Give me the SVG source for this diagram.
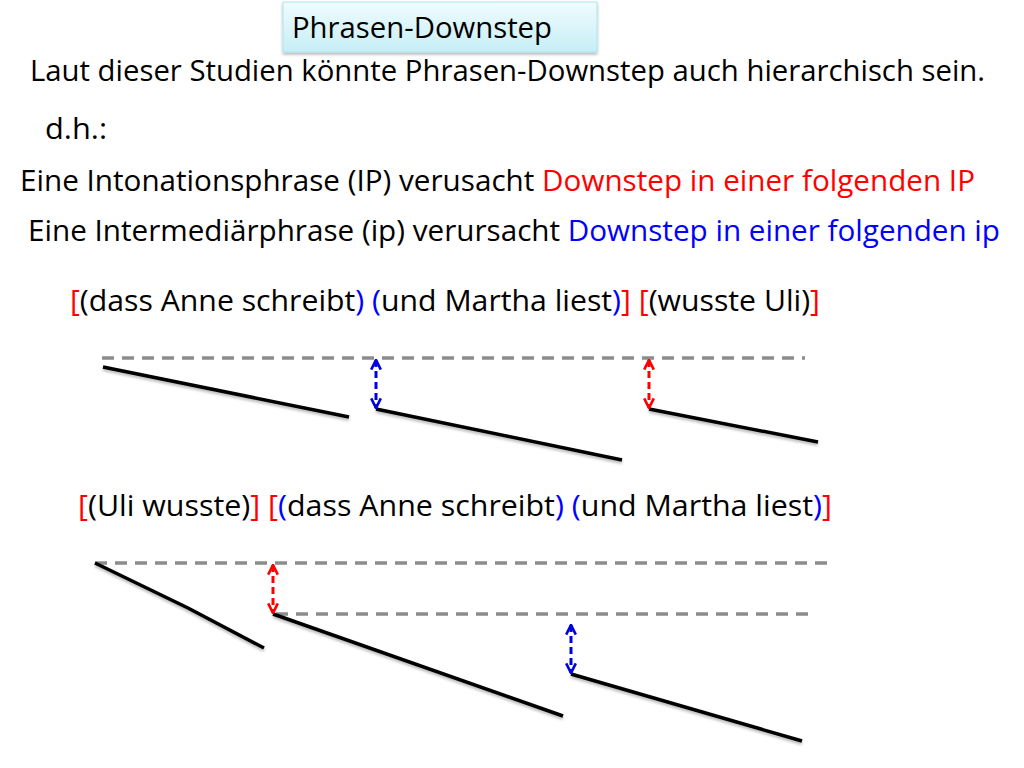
<svg xmlns="http://www.w3.org/2000/svg" width="1024" height="768" viewBox="0 0 1024 768">
<style>
text{font-family:"Open Sans","Liberation Sans",sans-serif;font-size:28.5px;fill:#000}
.r{fill:#ff0000}.b{fill:#0000ff}
.grid{stroke:#8c8c8c;stroke-width:3.5;stroke-dasharray:12 8;fill:none}
.pitch{stroke:#000;stroke-width:3.5;fill:none;stroke-linecap:butt}
.arb{stroke:#0000e0;stroke-width:3;stroke-dasharray:7 4;fill:none;marker-start:url(#mb);marker-end:url(#mb)}
.arr{stroke:#ff0000;stroke-width:3;stroke-dasharray:7 4;fill:none;marker-start:url(#mr);marker-end:url(#mr)}
</style>
<defs>
<linearGradient id="tg" x1="0" y1="0" x2="0" y2="1"><stop offset="0" stop-color="#f0fcfe"/><stop offset="1" stop-color="#c6eef6"/></linearGradient>
<marker id="mb" viewBox="0 0 10 10" refX="9" refY="5" markerWidth="4" markerHeight="4" orient="auto-start-reverse" markerUnits="strokeWidth"><path d="M1,1 L9,5 L1,9" fill="none" stroke="#0000e0" stroke-width="2.2"/></marker>
<marker id="mr" viewBox="0 0 10 10" refX="9" refY="5" markerWidth="4" markerHeight="4" orient="auto-start-reverse" markerUnits="strokeWidth"><path d="M1,1 L9,5 L1,9" fill="none" stroke="#ff0000" stroke-width="2.2"/></marker>
<filter id="sh" x="-10%" y="-20%" width="120%" height="150%"><feGaussianBlur in="SourceAlpha" stdDeviation="1.5"/><feOffset dx="0" dy="2"/><feComponentTransfer><feFuncA type="linear" slope="0.3"/></feComponentTransfer><feMerge><feMergeNode/><feMergeNode in="SourceGraphic"/></feMerge></filter>
</defs>
<rect width="1024" height="768" fill="#fff"/>
<g id="title">
<rect x="283" y="2" width="314" height="50" fill="url(#tg)" stroke="#b0e4ee" stroke-width="1" filter="url(#sh)"/>
<text x="292" y="38" textLength="260" lengthAdjust="spacingAndGlyphs">Phrasen-Downstep</text>
</g>
<g id="text">
<text x="30" y="81" textLength="955" lengthAdjust="spacingAndGlyphs">Laut dieser Studien könnte Phrasen-Downstep auch hierarchisch sein.</text>
<text x="45" y="139" textLength="62" lengthAdjust="spacingAndGlyphs">d.h.:</text>
<text x="20" y="191" textLength="955" lengthAdjust="spacingAndGlyphs">Eine Intonationsphrase (IP) verusacht <tspan class="r">Downstep in einer folgenden IP</tspan></text>
<text x="28" y="241" textLength="972" lengthAdjust="spacingAndGlyphs">Eine Intermediärphrase (ip) verursacht <tspan class="b">Downstep in einer folgenden ip</tspan></text>
<text x="70" y="311" textLength="750" lengthAdjust="spacingAndGlyphs"><tspan class="r">[</tspan>(dass Anne schreibt<tspan class="b">)</tspan> <tspan class="b">(</tspan>und Martha liest<tspan class="b">)</tspan><tspan class="r">]</tspan> <tspan class="r">[</tspan>(wusste Uli)<tspan class="r">]</tspan></text>
<text x="78" y="516" textLength="754" lengthAdjust="spacingAndGlyphs"><tspan class="r">[</tspan>(Uli wusste)<tspan class="r">]</tspan> <tspan class="r">[</tspan><tspan class="b">(</tspan>dass Anne schreibt<tspan class="b">)</tspan> <tspan class="b">(</tspan>und Martha liest<tspan class="b">)</tspan><tspan class="r">]</tspan></text>
</g>
<g id="connectors">
<line class="grid" x1="102" y1="358" x2="805" y2="358"/>
<g filter="url(#sh)">
<line class="pitch" x1="103" y1="367" x2="349" y2="417"/>
<line class="pitch" x1="376" y1="409" x2="622" y2="460"/>
<line class="pitch" x1="649" y1="409" x2="818" y2="442"/>
</g>
<line class="arb" x1="376" y1="360" x2="376" y2="408"/>
<line class="arr" x1="649" y1="360" x2="649" y2="408"/>
<line class="grid" x1="95" y1="563" x2="828" y2="563"/>
<line class="grid" x1="276" y1="614" x2="812" y2="614"/>
<g filter="url(#sh)">
<polyline class="pitch" points="95,563 188,608 264,648"/>
<line class="pitch" x1="273" y1="614" x2="563" y2="716"/>
<line class="pitch" x1="571" y1="674" x2="802" y2="741"/>
</g>
<line class="arr" x1="273" y1="565" x2="273" y2="613"/>
<line class="arb" x1="571" y1="625" x2="571" y2="673"/>
</g>
</svg>
